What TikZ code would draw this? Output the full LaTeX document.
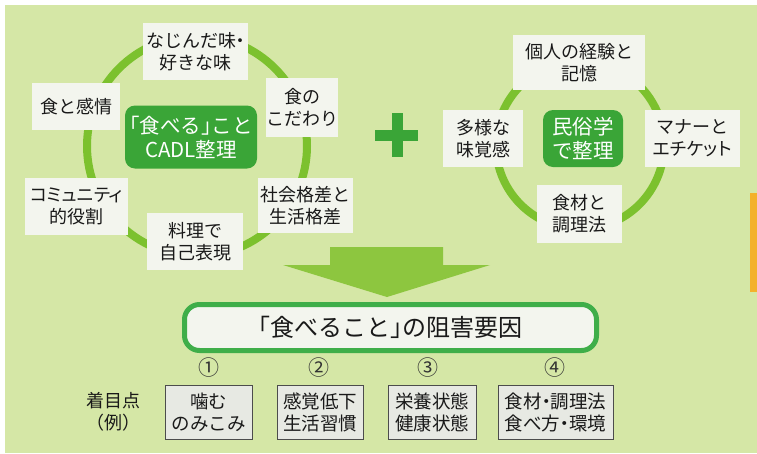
\documentclass[tikz,border=0pt]{standalone}
\usepackage{fontspec}
\setmainfont{Noto Sans CJK JP}
\newcommand\hb[1]{{\addfontfeature{RawFeature=+halt}#1}}
\newcommand\pa[1]{{\addfontfeature{RawFeature=+palt}#1}}
\definecolor{bg}{HTML}{D5E7A6}
\definecolor{ring}{HTML}{7CC12E}
\definecolor{dkgreen}{HTML}{3AA537}
\definecolor{boxfill}{HTML}{F3F5EE}
\definecolor{arrowg}{HTML}{8DC63F}
\definecolor{orangebar}{HTML}{F3B12B}
\definecolor{frame}{HTML}{3FAE49}
\begin{document}
\begin{tikzpicture}[x=1pt,y=-1pt,
  wbox/.style={fill=boxfill,draw=none,inner sep=0pt,align=center,font=\fontsize{18}{22}\selectfont,text=black!90},
  cnode/.style={fill=dkgreen,rounded corners=10pt,inner sep=0pt,align=center,text=white,font=\fontsize{20.5}{24}\selectfont},
  gbox/.style={fill=boxfill!90!gray,draw=black!70,line width=0.8pt,inner sep=0pt,align=center,font=\fontsize{18.5}{22}\selectfont,text=black!90},
  num/.style={font=\fontsize{21}{21}\selectfont,text=black!80,inner sep=0pt}]
\useasboundingbox (0,0) rectangle (757,453);
\fill[white] (0,0) rectangle (757,453);
\fill[bg] (5,5) rectangle (757,453);
\fill[orangebar] (750,193) rectangle (757,292);
% rings
\draw[ring,line width=8pt] (197,146) circle[radius=110];
\draw[ring,line width=8pt] (580,145) circle[radius=84];
% left group
\node[cnode,minimum width=132,minimum height=63] (c1) at (191,137) {\hb{「}食べる\hb{」}こと\\CADL整理};
\node[wbox,minimum width=105,minimum height=57] (l1) at (195.5,51.5) {なじんだ味\hb{・}\\好きな味};
\node[wbox,minimum width=88,minimum height=47] (l2) at (76,106.5) {食と感情};
\node[wbox,minimum width=70,minimum height=59] (l3) at (302,107.5) {食の\\こだわり};
\node[wbox,minimum width=103,minimum height=57] (l4) at (76.5,206.5) {\pa{コミュニティ}\\的役割};
\node[wbox,minimum width=95,minimum height=55] (l5) at (305.5,205.5) {社会格差と\\生活格差};
\node[wbox,minimum width=96,minimum height=57] (l6) at (195,241.5) {料理で\\自己表現};
% plus
\fill[dkgreen] (375,129.5) rectangle (418,140.5);
\fill[dkgreen] (391.5,113) rectangle (402.5,157);
% right group
\node[cnode,minimum width=80,minimum height=57] (c2) at (583,138.5) {民俗学\\で整理};
\node[wbox,minimum width=132,minimum height=55] (r1) at (579,62.5) {個人の経験と\\記憶};
\node[wbox,minimum width=80,minimum height=57] (r2) at (483,138.5) {多様な\\味覚感};
\node[wbox,minimum width=95,minimum height=57] (r3) at (692.5,138.5) {マナーと\\\pa{エチケット}};
\node[wbox,minimum width=85,minimum height=58] (r4) at (579.5,214) {食材と\\調理法};
% big arrow
\fill[arrowg] (330,247) -- (443,247) -- (443,265) -- (490,265) -- (387,297) -- (283,265) -- (330,265) -- cycle;
% frame
\node[draw=frame,line width=5pt,fill=boxfill,rounded corners=15pt,minimum width=412,minimum height=46,inner sep=0pt,font=\fontsize{24}{24}\selectfont,text=black!90] (f) at (390.5,327.5) {\hb{「}食べること\hb{」}の阻害要因};
% numbers
\node[num] (n1) at (209,368) {①};
\node[num] (n2) at (319,368) {②};
\node[num] (n3) at (428,368) {③};
\node[num] (n4) at (555,368) {④};
\node[align=center,inner sep=0pt,font=\fontsize{18}{22}\selectfont,text=black!90] (lab) at (113,412) {着目点\\\hb{（}例\hb{）}};
\node[gbox,minimum width=87,minimum height=54] (b1) at (208.5,412) {噛む\\のみこみ};
\node[gbox,minimum width=86,minimum height=54] (b2) at (320,412) {感覚低下\\生活習慣};
\node[gbox,minimum width=88,minimum height=54] (b3) at (432,412) {栄養状態\\健康状態};
\node[gbox,minimum width=115,minimum height=54] (b4) at (555.5,412) {食材\hb{・}調理法\\食べ方\hb{・}環境};
\end{tikzpicture}
\end{document}
